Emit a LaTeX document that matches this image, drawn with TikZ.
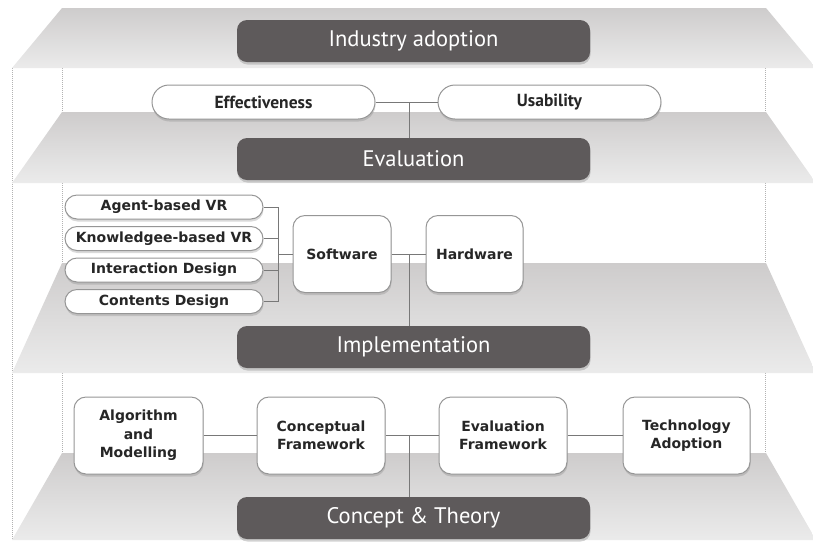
\documentclass[tikz,border=0pt]{standalone}
\usepackage{fontspec}
\setmainfont{DejaVu Sans}
\newfontfamily\itemFont{DejaVu Sans}
\newfontfamily\headFont{PT Sans}
\usepackage{tikz}
\usetikzlibrary{calc,shadows}
\definecolor{floorTop}{RGB}{206,204,204}
\definecolor{floorBottom}{RGB}{235,235,235}
\definecolor{layerDark}{RGB}{94,90,91}
\definecolor{boxLine}{RGB}{150,150,150}
\definecolor{linkGray}{RGB}{120,120,120}
\definecolor{itemText}{RGB}{38,38,38}
\newcommand{\layerWidth}{353pt}
\newcommand{\layerHeight}{42pt}
\newcommand{\floorInset}{50}
\newcommand{\innerLeft}{62}
\newcommand{\innerRight}{765}
\newcommand{\outerLeft}{12}
\newcommand{\layerX}{413.5}

\begin{document}
\begin{tikzpicture}[x=1pt,y=-1pt,
	layer/.style={rounded corners=10pt, fill=layerDark, text=white, minimum width=\layerWidth, minimum height=\layerHeight, inner sep=0pt, font=\headFont\fontsize{22.5}{26}\selectfont, drop shadow={shadow xshift=0.5pt, shadow yshift=-2.5pt, opacity=.35}},
	box/.style={draw=boxLine, line width=1pt, fill=white, text=itemText, inner sep=0pt, align=center, font=\itemFont\bfseries\fontsize{14}{18.5}\selectfont, drop shadow={shadow xshift=0.5pt, shadow yshift=-2.5pt, opacity=.3}},
	pill/.style={box, rounded corners=17pt, minimum width=223pt, minimum height=34pt, font=\headFont\bfseries\fontsize{17.5}{20}\selectfont},
	item/.style={box, rounded corners=12pt, minimum width=198pt, minimum height=24pt},
	block/.style={box, rounded corners=12pt, minimum height=77pt},
	link/.style={draw=linkGray, line width=0.9pt},
	guide/.style={draw=gray!60, line width=0.8pt, dash pattern=on 1pt off 1pt}]

	\useasboundingbox (0,0) rectangle (813,542);

	% dotted walls between the floors
	\draw[guide] (\outerLeft,68) -- (\outerLeft,540);
	\foreach \yTop/\yBot in {68/112, 183/263, 373/453}
	{
		\draw[guide] (\innerLeft,\yTop) -- (\innerLeft,\yBot);
		\draw[guide] (\innerRight,\yTop) -- (\innerRight,\yBot);
	}

	% floors
	\begin{scope}
		\clip (0,0) rectangle (813,542);
		\foreach \yTop/\yBot in {8/68, 112/183, 263/373, 453/540}
		{
			\shade[top color=floorTop, bottom color=floorBottom] (\innerLeft,\yTop) -- (766,\yTop) -- (766+\floorInset,\yBot) -- (\innerLeft-\floorInset,\yBot) -- cycle;
		}
	\end{scope}

	\node[layer] (industry) at (\layerX,41) {Industry adoption};
	\node[layer] (evaluation) at (\layerX,159) {Evaluation};
	\node[layer] (implementation) at (\layerX,347) {Implementation};
	\node[layer] (concept) at (\layerX,518) {Concept \& Theory};

	% evaluation
	\node[pill] (effectiveness) at (263.5,102) {Effectiveness};
	\node[pill] (usability) at (549.5,102) {Usability};
	\coordinate (evalJoin) at ($(effectiveness.east)!0.55!(usability.west)$);
	\draw[link] (effectiveness.east) -- (usability.west);
	\draw[link] (evalJoin) -- (evalJoin |- evaluation.north);

	% implementation
	\node[block, minimum width=98pt] (software) at (342,254) {Software};
	\node[block, minimum width=97pt] (hardware) at (474.5,254) {Hardware};
	\foreach \name/\txt [count=\i] in {agentVR/Agent-based VR, knowledgeVR/Knowledgee-based VR, interaction/Interaction Design, contents/Contents Design}
	{
		\node[item] (\name) at (164,{175.5+31.5*\i}) {\txt};
	}
	\coordinate (softwareBus) at (278,254);
	\foreach \name in {agentVR, knowledgeVR, interaction, contents}
	{
		\draw[link] (\name.east) -- (\name.east -| softwareBus);
	}
	\draw[link] (agentVR.east -| softwareBus) -- (contents.east -| softwareBus);
	\draw[link] (softwareBus) -- (software.west);
	\draw[link] (software.east) -- (hardware.west);
	\coordinate (implJoin) at (409,254);
	\draw[link] (implJoin) -- (implJoin |- implementation.north);

	% concept and theory
	\node[block, minimum width=129pt] (algorithm) at (138.5,435.5) {Algorithm\\and\\Modelling};
	\node[block, minimum width=128pt] (conceptual) at (321,435.5) {Conceptual\\Framework};
	\node[block, minimum width=128pt] (evalFramework) at (503,435.5) {Evaluation\\Framework};
	\node[block, minimum width=127pt] (technology) at (686.5,435.5) {Technology\\Adoption};
	\draw[link] (algorithm) -- (conceptual);
	\draw[link] (conceptual) -- (evalFramework);
	\draw[link] (evalFramework) -- (technology);
	\coordinate (conceptJoin) at (409,435.5);
	\draw[link] (conceptJoin) -- (conceptJoin |- concept.north);
\end{tikzpicture}
\end{document}
